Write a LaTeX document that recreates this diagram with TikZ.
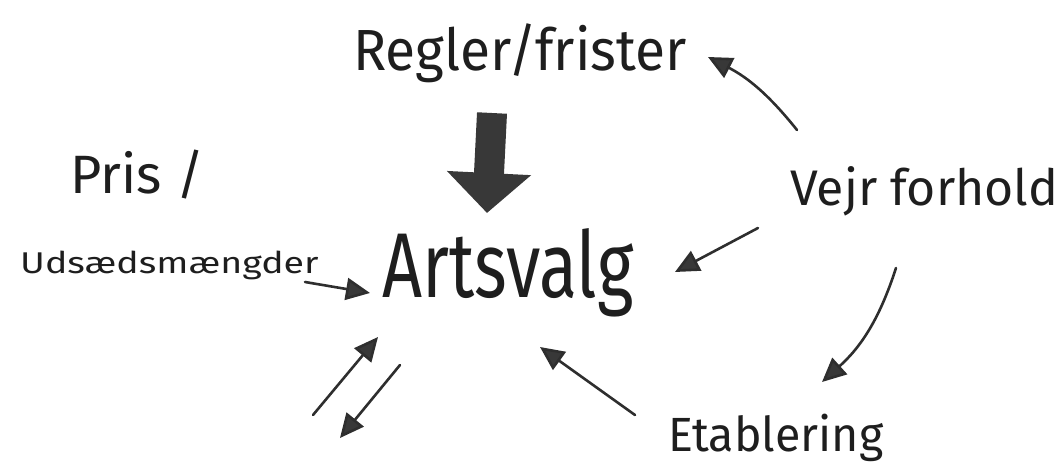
\documentclass[tikz,border=0pt]{standalone}
\usepackage{fontspec}
\setmainfont{Fira Sans}
\usepackage{graphicx}
\usetikzlibrary{arrows.meta,calc}
\definecolor{cInk}{HTML}{1E1E1E}
\definecolor{cArrow}{HTML}{2E2E2E}
\definecolor{cHead}{HTML}{383838}

\tikzset{
  word/.style={inner sep=0pt, anchor=base west, text=cInk},
  link/.style={draw=cArrow, line width=2.6pt, line cap=round,
    -{Triangle[length=24pt,width=22pt,fill=cHead]}},
}

\begin{document}
\begin{tikzpicture}[x=1pt,y=-1pt]
  \useasboundingbox (0,0) rectangle (1059,463);
  % labels
  \node[word,font=\fontsize{58}{58}\selectfont] (regler) at (353,70) {\scalebox{0.95}[1]{Regler/frister}};
  \node[word,font=\fontsize{92}{92}\selectfont] (artsvalg) at (382,297) {\scalebox{0.76}[1]{Artsvalg}};
  \node[word,font=\fontsize{50}{50}\selectfont] (vejr) at (790,205) {Vejr forhold};
  \node[word,font=\fontsize{54}{54}\selectfont] (pris) at (70,193) {Pris /};
  \node[word,font=\fontsize{30}{30}\selectfont] (udsaed) at (20,273) {\scalebox{1.25}[1]{Udsædsmængder}};
  \node[word,font=\fontsize{48}{48}\selectfont] (etabl) at (668,451) {\scalebox{0.97}[1]{Etablering}};
  \coordinate (nede) at (330,470);
  % big arrow
  \draw[draw=cHead, line width=30pt, -{Triangle[length=40pt,width=82pt,fill=cHead]}]
    ([shift={(139,43)}]regler.base west) -- ([shift={(105,-84)}]artsvalg.base west);
  % small arrows
  \draw[link] ([shift={(7,-75)}]vejr.base west) to[bend right=12] ([shift={(355,-13)}]regler.base west);
  \draw[link] ([shift={(-32,23)}]vejr.base west) -- ([shift={(293,-25)}]artsvalg.base west);
  \draw[link] ([shift={(106,63)}]vejr.base west) to[bend left=15] ([shift={(154,-69)}]etabl.base west);
  \draw[link] ([shift={(-33,-36)}]etabl.base west) -- ([shift={(158,50)}]artsvalg.base west);
  \draw[link] ([shift={(285,9)}]udsaed.base west) -- ([shift={(-12,-4)}]artsvalg.base west);
  \draw[link] ([shift={(-17,-55)}]nede) -- ([shift={(-4,40)}]artsvalg.base west);
  \draw[link] ([shift={(18,68)}]artsvalg.base west) -- ([shift={(10,-32)}]nede);
\end{tikzpicture}
\end{document}
